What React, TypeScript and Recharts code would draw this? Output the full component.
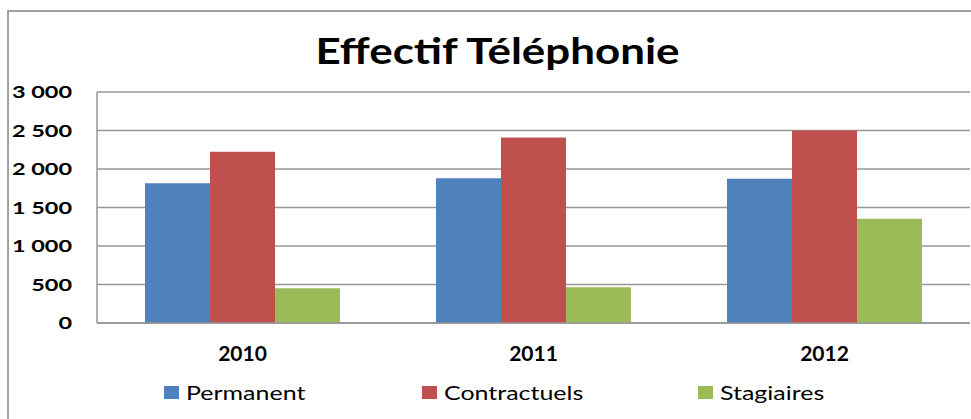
import React from 'react';
import { BarChart, Bar, XAxis, YAxis, CartesianGrid } from 'recharts';

const categories = ['2010', '2011', '2012'];
const permanent = [1815, 1880, 1875];
const contractuels = [2225, 2410, 2500];
const stagiaires = [450, 465, 1355];
const yTicks = [0, 500, 1000, 1500, 2000, 2500, 3000];
const seriesNames = ['Permanent', 'Contractuels', 'Stagiaires'];
const seriesKeys = ['permanent', 'contractuels', 'stagiaires'];
const seriesColors = ['#4F81BD', '#C0504D', '#9BBB59'];

const data = categories.map((c, i) => ({
  year: c,
  permanent: permanent[i],
  contractuels: contractuels[i],
  stagiaires: stagiaires[i],
}));

const fmt = (v: number) => String(v).replace(/\B(?=(\d{3})+(?!\d))/g, ' ');

const FONT = 'Lato, "Open Sans", sans-serif';

const YTick = (props: any) => {
  const { x, y, payload } = props;
  return (
    <g transform={`translate(${x},${y})`}>
      <text
        x={0}
        y={0}
        dy="0.355em"
        textAnchor="end"
        transform="scale(1.38,1)"
        fill="#000"
        fontSize={17}
        fontWeight={700}
        fontFamily={FONT}
      >
        {fmt(payload.value)}
      </text>
    </g>
  );
};

const legendSquareX = [164, 422, 698];
const legendTextX = [186, 444, 720];

export default function App() {
  return (
    <div style={{ position: 'absolute', left: 0, top: 0, width: 971, height: 419, background: '#fff', overflow: 'hidden', fontFamily: FONT }}>
      <div style={{ position: 'absolute', left: 7, top: 10, width: 1100, height: 600, border: '2px solid #a0a0a0', boxSizing: 'border-box' }} />
      <div
        style={{
          position: 'absolute',
          left: 0,
          top: 26,
          width: 995,
          textAlign: 'center',
          fontSize: 36,
          fontWeight: 700,
          color: '#000',
          lineHeight: '48px',
          whiteSpace: 'nowrap',
          transform: 'scaleX(1.22)',
          transformOrigin: '497.5px 0',
        }}
      >
        Effectif Téléphonie
      </div>
      <div style={{ position: 'absolute', left: 0, top: 0 }}>
        <BarChart
          width={971}
          height={419}
          data={data}
          margin={{ top: 92, right: 1, left: 0, bottom: 56 }}
          barCategoryGap={48}
          barGap={0}
        >
          <CartesianGrid vertical={false} stroke="#969696" strokeWidth={1.5} />
          <XAxis
            dataKey="year"
            height={40}
            tickLine={false}
            tickSize={0}
            tickMargin={23}
            axisLine={{ stroke: '#969696', strokeWidth: 1.5 }}
            tick={{ fill: '#000', fontSize: 21, fontWeight: 700, fontFamily: FONT }}
          />
          <YAxis
            width={97}
            domain={[0, 3000]}
            ticks={yTicks}
            tickLine={false}
            tickSize={0}
            tickMargin={25}
            axisLine={{ stroke: '#969696', strokeWidth: 1.5 }}
            tick={<YTick />}
          />
          {seriesKeys.map((k, i) => (
            <Bar key={k} dataKey={k} name={seriesNames[i]} fill={seriesColors[i]} isAnimationActive={false} />
          ))}
        </BarChart>
      </div>
      {seriesNames.map((n, i) => (
        <React.Fragment key={n}>
          <div style={{ position: 'absolute', left: legendSquareX[i], top: 386, width: 15, height: 13, background: seriesColors[i] }} />
          <div
            style={{
              position: 'absolute',
              left: legendTextX[i],
              top: 380.5,
              fontSize: 19.5,
              lineHeight: '24px',
              color: '#000',
              whiteSpace: 'nowrap',
              transform: 'scaleX(1.28)',
              transformOrigin: '0 0',
            }}
          >
            {n}
          </div>
        </React.Fragment>
      ))}
    </div>
  );
}
